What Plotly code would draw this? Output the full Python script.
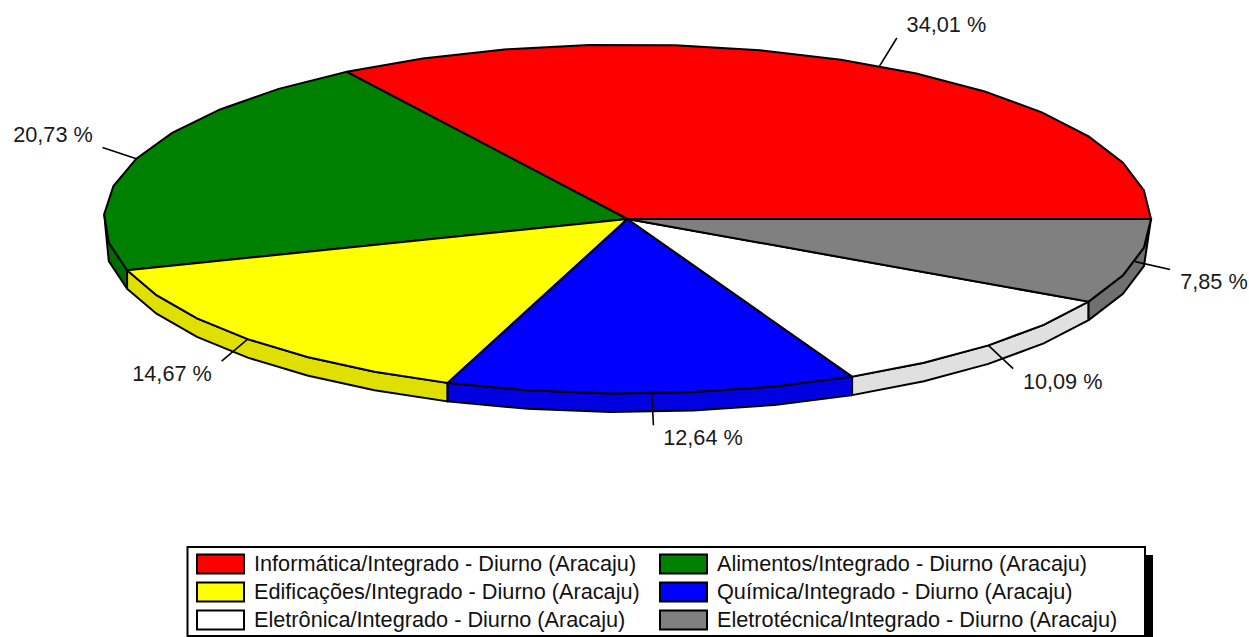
import math
import plotly.graph_objects as go

categories = [
    "Informática/Integrado - Diurno (Aracaju)",
    "Alimentos/Integrado - Diurno (Aracaju)",
    "Edificações/Integrado - Diurno (Aracaju)",
    "Química/Integrado - Diurno (Aracaju)",
    "Eletrônica/Integrado - Diurno (Aracaju)",
    "Eletrotécnica/Integrado - Diurno (Aracaju)",
]
values = [34.01, 20.73, 14.67, 12.64, 10.09, 7.85]
labels = ["34,01 %", "20,73 %", "14,67 %", "12,64 %", "10,09 %", "7,85 %"]
top_colors = ["#FF0000", "#008000", "#FFFF00", "#0000FF", "#FFFFFF", "#808080"]
side_colors = ["#E00000", "#006C00", "#E0E000", "#0000E0", "#E0E0E0", "#707070"]

W, H = 1249, 637
CX, CY, RX, RY, DEPTH = 627.5, 219, 523.5, 174.5, 18.5
LEADER_CX = 626.5
FONT = "Liberation Sans, Arial, sans-serif"
FS = 21.7
TOTAL = sum(values)


def pt(deg):
    a = math.radians(deg)
    return CX + RX * math.cos(a), CY - RY * math.sin(a)


fig = go.Figure()
slices = []
cum = 0.0
for v in values:
    start = cum / TOTAL * 360
    cum += v
    end = cum / TOTAL * 360
    n = max(1, round((end - start) / 9.4))
    slices.append((start, end, [start + (end - start) * k / n for k in range(n + 1)]))


def poly(xs, ys, fill):
    fig.add_trace(go.Scatter(x=xs, y=ys, mode="lines", fill="toself", fillcolor=fill,
                             line=dict(color="black", width=2, simplify=False),
                             hoverinfo="skip", showlegend=False))


# rim faces (only the part that faces the viewer)
for (start, end, angs), side in zip(slices, side_colors):
    vis = [a for a in angs if math.sin(math.radians(a)) < 0.1]
    if len(vis) < 2:
        continue
    top = [pt(a) for a in vis]
    bottom = []
    for a in reversed(vis):
        x, y = pt(a)
        # at the horizon the rim collapses to the top outline
        bottom.append((x, y if math.sin(math.radians(a)) > -0.1 else y + DEPTH))
    pts = top + bottom + [top[0]]
    poly([p[0] for p in pts], [p[1] for p in pts], side)

# top faces
for (start, end, angs), col in zip(slices, top_colors):
    pts = [(CX, CY)] + [pt(a) for a in angs] + [(CX, CY)]
    poly([p[0] for p in pts], [p[1] for p in pts], col)

# leader lines and value labels
lx, ly, lt = [], [], []
for (start, end, _), text in zip(slices, labels):
    mid = (start + end) / 2
    c, s = math.cos(math.radians(mid)), math.sin(math.radians(mid))
    x0, y0 = pt(mid)
    x1, y1 = x0 + 36 * c, y0 - 32 * s
    fig.add_trace(go.Scatter(x=[x0, x1], y=[y0, y1], mode="lines",
                             line=dict(color="black", width=1.6),
                             hoverinfo="skip", showlegend=False))
    half = len(text) * 5.65 + 10
    lx.append(x1 + math.copysign(half, c))
    ly.append(y1 - math.copysign(13, s) + 1.5)
    lt.append(text)
fig.add_trace(go.Scatter(x=lx, y=ly, text=lt, mode="text", textposition="middle center",
                         textfont=dict(family=FONT, size=FS, color="#1a1a1a"),
                         hoverinfo="skip", showlegend=False))

# legend box
shapes = [
    dict(type="rect", x0=1145, x1=1153, y0=555, y1=637, fillcolor="black", line_width=0, layer="below"),
    dict(type="rect", x0=187.5, x1=1145, y0=547, y1=636, fillcolor="white",
         line=dict(color="black", width=2), layer="below"),
]
cols = [(197, 254), (660, 717)]
rows = [564, 592, 620]
tx, ty, tt = [], [], []
for i, (cat, col) in enumerate(zip(categories, top_colors)):
    sx, txt_x = cols[i % 2]
    yc = rows[i // 2]
    shapes.append(dict(type="rect", x0=sx, x1=sx + 47, y0=yc - 9.5, y1=yc + 9.5, fillcolor=col,
                       line=dict(color="black", width=2), layer="above"))
    tx.append(txt_x)
    ty.append(yc + 1.5)
    tt.append(cat)
fig.add_trace(go.Scatter(x=tx, y=ty, text=tt, mode="text", textposition="middle right",
                         textfont=dict(family=FONT, size=FS, color="#111111"),
                         hoverinfo="skip", showlegend=False))

fig.update_layout(
    width=W, height=H, margin=dict(l=0, r=0, t=0, b=0),
    paper_bgcolor="white", plot_bgcolor="white", showlegend=False, shapes=shapes,
    xaxis=dict(range=[0, W], visible=False, fixedrange=True),
    yaxis=dict(range=[H, 0], visible=False, fixedrange=True),
)
fig.write_html("out.html", config={"displayModeBar": False},
               post_script="document.body.style.margin='0';document.body.style.overflow='hidden';")
